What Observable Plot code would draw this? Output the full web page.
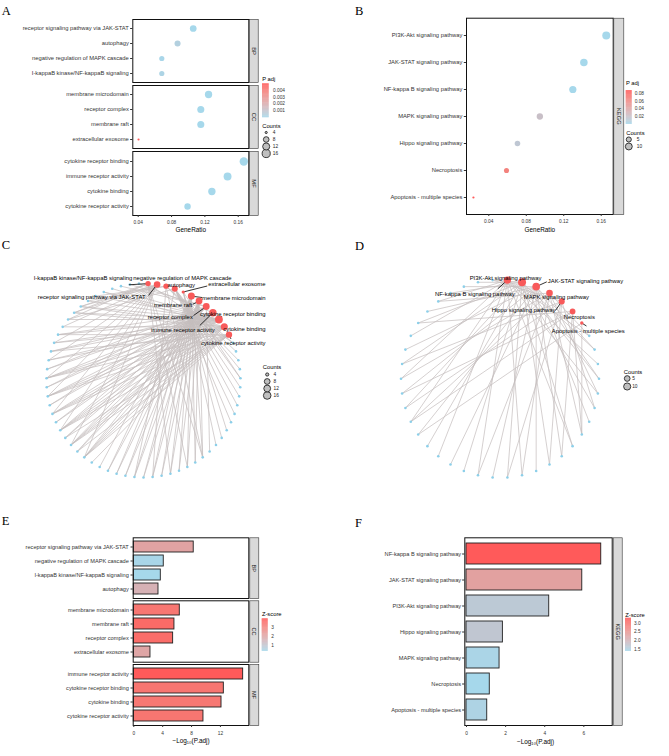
<!DOCTYPE html>
<html>
<head>
<meta charset="utf-8">
<script src="https://cdn.jsdelivr.net/npm/d3@7"></script>
<script src="https://cdn.jsdelivr.net/npm/@observablehq/plot@0.6"></script>
<style>
html,body{margin:0;padding:0;background:#fff;}
#root{position:relative;width:669px;height:756px;overflow:hidden;background:#fff;}
#root svg{position:absolute;left:0;top:0;}
</style>
</head>
<body>
<div id="root"></div>
<script>
// ---------------- DATA ----------------
// GO terms (network order)
const goTerms = ["I-kappaB kinase/NF-kappaB signaling","receptor signaling pathway via JAK-STAT","negative regulation of MAPK cascade","autophagy","extracellular exosome","membrane microdomain","membrane raft","receptor complex","immune receptor activity","cytokine receptor binding","cytokine binding","cytokine receptor activity"];
const goOntology = ["BP","BP","BP","BP","CC","CC","CC","CC","MF","MF","MF","MF"];
const goGeneRatio = [0.0683,0.106,0.0683,0.0872,0.0404,0.1244,0.1151,0.1151,0.1472,0.1667,0.1284,0.0992];
const goCount = [7,11,7,9,4,13,12,12,15,17,13,10];
const goNegLog10Padj = [3.74,8.3,4.15,3.42,2.31,6.37,5.63,5.45,15.15,12.47,12.15,9.65];
const goZscore = [0.39,2.07,0.45,1.65,2.0,3.27,3.55,3.5,3.9,3.3,3.25,3.3];
const goDotOrder = [1,3,2,0, 5,7,6,4, 9,8,10,11];
const goBarOrder = [1,2,0,3, 5,6,7,4, 8,9,10,11];
const goGenes = [
  [14,45,46,0,16,47,18],
  [46,47,28,30,32,34,36,38,40,42,44],
  [14,0,20,48,49,1,2],
  [45,3,4,22,5,6,7,8,9],
  [4,10,11,12],
  [14,16,18,20,22,15,17,19,21,23,24,25,26],
  [14,16,18,20,22,15,17,19,21,23,24,25],
  [28,30,32,29,31,33,35,37,39,13,52,53],
  [28,30,32,34,36,38,29,31,33,35,37,39,41,43,54],
  [45,46,47,28,30,32,34,36,38,40,42,48,49,41,43,50,51],
  [46,47,28,30,32,34,36,38,40,42,44,50,27],
  [28,30,32,34,36,38,29,31,41,43]
];
// KEGG pathways (network order)
const keggTerms = ["NF-kappa B signaling pathway","PI3K-Akt signaling pathway","JAK-STAT signaling pathway","MAPK signaling pathway","Hippo signaling pathway","Necroptosis","Apoptosis - multiple species"];
const keggGeneRatio = [0.1297,0.1654,0.1415,0.0945,0.0706,0.0589,0.0236];
const keggCount = [11,14,12,8,6,5,2];
const keggNegLog10Padj = [6.89,4.23,5.92,1.69,1.86,1.19,1.06];
const keggZscore = [3.29,1.64,2.33,1.42,1.69,1.37,1.46];
const keggDotOrder = [1,2,0,3,4,5,6];
const keggBarOrder = [0,2,1,4,3,5,6];
const keggGenes = [
  [0,2,4,8,12,15,18,21,24,27,30],
  [1,3,5,8,10,13,16,19,22,25,28,31,33,34],
  [1,3,6,9,11,14,17,20,23,26,29,32],
  [0,4,7,12,15,21,24,30],
  [5,10,13,22,25,34],
  [7,9,21,23,28],
  [7,20]
];
// ticks / legend breaks
const ratioTicks = [0.04,0.08,0.12,0.16];
const goBarTicks = [0,4,8,12];
const keggBarTicks = [0,2,4,6];
const goPadjTicks = [0.001,0.002,0.003,0.004];
const keggPadjTicks = [0.02,0.04,0.06,0.08];
const goZTicks = [1,2,3];
const keggZTicks = [1.5,2,2.5,3];
const goCountBreaks = [4,8,12,16];
const keggCountBreaks = [5,10];
const panelLetters = ["A","B","C","D","E","F"];

// ---------------- LAYOUT / STYLE ----------------
const W = 669, H = 756;
const FONT = "'Liberation Sans', Arial, Helvetica, sans-serif";
const BLUE = "#A6D8EB", RED = "#FF5A5A", NODE_RED = "#F85A5A", GENE_BLUE = "#8CCFE9", EDGE = "#C4BEBE";
const root = document.getElementById("root");
const st = fs => `background:transparent;overflow:visible;font-family:${FONT};font-size:${fs}px;color:#333;`;
const fm = (l, t, r, b) => ({marginLeft: l, marginTop: t, marginRight: W - r, marginBottom: H - b});
const add = svg => root.appendChild(svg);

const goRows = goTerms.map((name, i) => ({name, ont: goOntology[i], ratio: goGeneRatio[i], count: goCount[i], lp: goNegLog10Padj[i], p: Math.pow(10, -goNegLog10Padj[i]), z: goZscore[i]}));
const keggRows = keggTerms.map((name, i) => ({name, ont: "KEGG", ratio: keggGeneRatio[i], count: keggCount[i], lp: keggNegLog10Padj[i], p: Math.pow(10, -keggNegLog10Padj[i]), z: keggZscore[i]}));

const goMin = d3.min(goCount), goMax = d3.max(goCount);
const kgMin = d3.min(keggCount), kgMax = d3.max(keggCount);
const goRFn = c => Math.sqrt(c - goMin);
const kgRFn = c => Math.sqrt(c - kgMin);
const goPColor = {type: "linear", domain: d3.extent(goRows, d => d.p), range: [BLUE, RED], interpolate: d3.interpolateLab};
const kgPColor = {type: "linear", domain: d3.extent(keggRows, d => d.p), range: [BLUE, RED], interpolate: d3.interpolateLab};
const goZColor = {type: "linear", domain: d3.extent(goRows, d => d.z), range: [BLUE, RED], interpolate: d3.interpolateLab};
const kgZColor = {type: "linear", domain: d3.extent(keggRows, d => d.z), range: [BLUE, RED], interpolate: d3.interpolateLab};
const goRDot = {type: "linear", domain: [0, Math.sqrt(goMax - goMin)], range: [1.1, 4.2]};
const kgRDot = {type: "linear", domain: [0, Math.sqrt(kgMax - kgMin)], range: [1.1, 4.0]};
const goRNet = {type: "linear", domain: [0, Math.sqrt(goMax - goMin)], range: [1.6, 3.9]};
const kgRNet = {type: "linear", domain: [0, Math.sqrt(kgMax - kgMin)], range: [1.7, 4.0]};

function facet(box, rows, names, stripText, xDomain, scales, mark, fs, yType) {
  const innerW = box.r - box.l;
  const y = yType === "point"
    ? {type: "point", domain: names, padding: 0.6}
    : {type: "band", domain: names, paddingInner: 0.2, paddingOuter: 0.2};
  add(Plot.plot({
    width: W, height: H, ...fm(box.l, box.t, box.r, box.b),
    style: st(fs),
    x: {domain: xDomain, axis: null},
    y: {...y, tickSize: 2.2, tickPadding: box.pad, label: null},
    ...scales,
    marks: [
      mark(rows),
      Plot.frame({stroke: "#111", strokeWidth: 1}),
      Plot.frame({fill: "#D9D9D9", stroke: "#333", strokeWidth: 0.6, insetLeft: innerW + box.sg, insetRight: -(box.sg + box.sw)}),
      Plot.text([stripText], {frameAnchor: "right", dx: box.sg + box.sw / 2, rotate: 90, textAnchor: "middle", lineAnchor: "middle", fontSize: fs, fill: "#1A1A1A"})
    ]
  }));
}

function xAxis(box, domain, ticks, fmt, pad, title, titleY, titleDx) {
  add(Plot.plot({
    width: W, height: H, ...fm(box.l, box.b - 1, box.r, box.b),
    style: st(4.8),
    x: {domain, ticks, tickFormat: fmt, tickSize: 2, tickPadding: pad, label: null},
    marks: [
      Plot.ruleX(ticks, {x: d => d, strokeOpacity: 0}),
      Plot.text([title], {frameAnchor: "bottom", dy: titleY - box.b, dx: titleDx || 0, lineAnchor: "middle", textAnchor: "middle", fontSize: 6.4, fill: "#000"})
    ]
  }));
}

function colorbar(box, colorOpts, ticks, fmt, title, titleY, labelPad) {
  const dom = colorOpts.domain, n = 60, dv = (dom[1] - dom[0]) / n;
  const steps = d3.range(n).map(i => dom[0] + i * dv);
  add(Plot.plot({
    width: W, height: H, ...fm(box.x0, box.y0, box.x1, box.y1),
    style: st(4.8),
    x: {domain: [0, 1], axis: null},
    y: {domain: dom, ticks, tickFormat: fmt, tickSize: 0, tickPadding: labelPad, axis: "right", label: null},
    color: colorOpts,
    marks: [
      Plot.rect(steps, {x1: 0, x2: 1, y1: d => d, y2: d => Math.min(dom[1], d + dv * 1.3), fill: d => d + dv / 2}),
      Plot.text([title], {frameAnchor: "top-left", dy: titleY - box.y0, dx: -0.3, textAnchor: "start", lineAnchor: "middle", fontSize: 5.8, fill: "#000"})
    ]
  }));
}

function countLegend(box, breaks, rOpts, rFn) {
  add(Plot.plot({
    width: W, height: H, margin: 0,
    style: st(4.8),
    x: {domain: [0, 1], range: [box.cx, box.cx + 10], axis: null},
    y: {type: "point", domain: breaks, range: [box.y0, box.y1], padding: 0, axis: null},
    r: rOpts,
    marks: [
      Plot.dot(breaks, {x: 0, y: d => d, r: d => rFn(d), fill: "#BFBFBF", stroke: "#111", strokeWidth: 0.8}),
      Plot.text(breaks, {x: 0, y: d => d, text: d => String(d), dx: box.lx - box.cx, textAnchor: "start", fontSize: 4.8, fill: "#1A1A1A"}),
      Plot.text(["Counts"], {x: 0, y: breaks[0], dx: box.tx - box.cx, dy: box.ty - box.y0, textAnchor: "start", fontSize: 5.8, fill: "#000"})
    ]
  }));
}

function network(box, terms, counts, geneLists, rOpts, rFn, layout) {
  const {cx, cy, rad} = box;
  const nCat = terms.length;
  const nGenes = d3.max(geneLists.flat()) + 1;
  const n = nCat + nGenes;
  const ang = i => (i + 0.5) * 2 * Math.PI / n;
  const cats = terms.map((name, i) => ({name, count: counts[i], x: Math.sin(ang(i)), y: Math.cos(ang(i))}));
  const genes = d3.range(nGenes).map(g => ({x: Math.sin(ang(nCat + g)), y: Math.cos(ang(nCat + g))}));
  const edges = geneLists.flatMap((list, c) => list.map(g => ({c: cats[c], g: genes[g]})));
  const labs = cats.map((c, i) => ({...c, lx: c.x + layout[i].dx / rad, ly: c.y - layout[i].dy / rad, anchor: layout[i].a || "middle", seg: layout[i].seg}));
  const segs = labs.filter(d => d.seg).map(d => ({x1: d.x + d.seg[0] / rad, y1: d.y - d.seg[1] / rad, x2: d.x, y2: d.y}));
  const textMark = anchor => Plot.text(labs.filter(d => d.anchor === anchor), {x: "lx", y: "ly", text: "name", textAnchor: anchor, lineAnchor: "middle", fontSize: 5.9, fill: "#000"});
  add(Plot.plot({
    width: W, height: H, ...fm(cx - rad, cy - rad, cx + rad, cy + rad),
    style: st(5.9),
    x: {domain: [-1, 1], axis: null},
    y: {domain: [-1, 1], axis: null},
    r: rOpts,
    marks: [
      Plot.link(edges, {x1: d => d.c.x, y1: d => d.c.y, x2: d => d.g.x, y2: d => d.g.y, stroke: EDGE, strokeWidth: 0.8, strokeOpacity: 0.9}),
      Plot.dot(genes, {x: "x", y: "y", r: 1.3, fill: GENE_BLUE}),
      Plot.link(segs, {x1: "x1", y1: "y1", x2: "x2", y2: "y2", stroke: "#000", strokeWidth: 0.8}),
      Plot.dot(cats, {x: "x", y: "y", r: d => rFn(d.count), fill: NODE_RED}),
      textMark("start"), textMark("middle"), textMark("end")
    ]
  }));
}

// ---------------- PANEL A ----------------
const aFacets = [{ont: "BP", t: 19, b: 82}, {ont: "CC", t: 85, b: 148}, {ont: "MF", t: 151, b: 215}];
const aDomain = [0.0335, 0.1727];
aFacets.forEach(f => {
  const idx = goDotOrder.filter(i => goOntology[i] === f.ont);
  facet({l: 132.3, r: 248.3, t: f.t, b: f.b, pad: 1.8, sg: 0.7, sw: 8.7},
    goRows.filter(d => d.ont === f.ont), idx.map(i => goTerms[i]), f.ont, aDomain,
    {color: goPColor, r: goRDot},
    rows => Plot.dot(rows, {x: "ratio", y: "name", r: d => goRFn(d.count), fill: "p"}), 5.8, "point");
});
xAxis({l: 132.3, r: 248.3, b: 215}, aDomain, ratioTicks, d3.format(".2f"), 2.8, "GeneRatio", 229);
colorbar({x0: 262, x1: 268.7, y0: 83.3, y1: 117.3}, goPColor, goPadjTicks, d3.format(".3f"), "P adj", 79, 3.8);
countLegend({cx: 265.7, y0: 131.7, y1: 153.7, lx: 272.3, tx: 261.7, ty: 125}, goCountBreaks, goRDot, goRFn);

// ---------------- PANEL B ----------------
const bDomain = [0.0162, 0.1728];
facet({l: 466, r: 612.7, t: 17.7, b: 214, pad: 2, sg: 0.6, sw: 10},
  keggRows, keggDotOrder.map(i => keggTerms[i]), "KEGG", bDomain,
  {color: kgPColor, r: kgRDot},
  rows => Plot.dot(rows, {x: "ratio", y: "name", r: d => kgRFn(d.count), fill: "p"}), 5.8, "point");
xAxis({l: 466, r: 612.7, b: 214}, bDomain, ratioTicks, d3.format(".2f"), 3.5, "GeneRatio", 229);
colorbar({x0: 625.7, x1: 631.7, y0: 90, y1: 124}, kgPColor, keggPadjTicks, d3.format(".2f"), "P adj", 82.7, 2.5);
countLegend({cx: 628.3, y0: 138.3, y1: 145.7, lx: 636.3, tx: 625.7, ty: 131.7}, keggCountBreaks, kgRDot, kgRFn);

// ---------------- PANEL C ----------------
const cLabelLayout = [
  {dx: -15.8, dy: -5.4, a: "end", seg: [-19.2, 1.2]},
  {dx: -11.6, dy: 12.7, a: "end", seg: [-8.6, 11]},
  {dx: -32.8, dy: -8.3, a: "start"},
  {dx: 6.5, dy: -3.4, a: "middle", seg: [1.5, -1.5]},
  {dx: 82.3, dy: -8.2, a: "end", seg: [24, -6]},
  {dx: 74.2, dy: 1.7, a: "end", seg: [10.7, 1.4]},
  {dx: -6.8, dy: 3.8, a: "end", seg: [-6.2, 3.3]},
  {dx: -13.4, dy: 10.7, a: "end", seg: [-12.7, 9]},
  {dx: 1.9, dy: 17.1, a: "end", seg: [-13.1, 12.8]},
  {dx: 46.6, dy: -5.7, a: "end", seg: [3.1, -3.5]},
  {dx: 41.2, dy: 1.9, a: "end"},
  {dx: 36.5, dy: 8.5, a: "end", seg: [2, 4.3]}
];
network({cx: 143, cy: 380, rad: 97}, goTerms, goCount, goGenes, goRNet, goRFn, cLabelLayout);
countLegend({cx: 266.7, y0: 373.3, y1: 395, lx: 273, tx: 262.3, ty: 366}, goCountBreaks, goRNet, goRFn);

// ---------------- PANEL D ----------------
const dLabelLayout = [
  {dx: 7.4, dy: 13.7, a: "end", seg: [-9.6, 8.7]},
  {dx: -16.5, dy: -4.5},
  {dx: 11.6, dy: -5.4, a: "start", seg: [10.6, -4.8]},
  {dx: 6.8, dy: 4.1},
  {dx: -6.2, dy: 8.8, a: "end", seg: [-6.2, 9.1]},
  {dx: 6.7, dy: 6},
  {dx: 43, dy: 8.2, a: "end", seg: [4.7, 3]}
];
network({cx: 499.5, cy: 378.3, rad: 99}, keggTerms, keggCount, keggGenes, kgRNet, kgRFn, dLabelLayout);
countLegend({cx: 626.7, y0: 377.7, y1: 385.7, lx: 631.7, tx: 623.3, ty: 371}, keggCountBreaks, kgRNet, kgRFn);

// ---------------- PANEL E ----------------
const eFacets = [{ont: "BP", t: 537.3, b: 598}, {ont: "CC", t: 600.3, b: 661.7}, {ont: "MF", t: 664, b: 725}];
const eDomain = [-0.083, 15.93];
eFacets.forEach(f => {
  const idx = goBarOrder.filter(i => goOntology[i] === f.ont);
  facet({l: 132.7, r: 248.3, t: f.t, b: f.b, pad: 2.2, sg: 1, sw: 9},
    goRows.filter(d => d.ont === f.ont), idx.map(i => goTerms[i]), f.ont, eDomain,
    {color: goZColor},
    rows => Plot.barX(rows, {x: "lp", y: "name", fill: "z", stroke: "#1F1F1F", strokeWidth: 0.9}), 5.65, "band");
});
xAxis({l: 132.7, r: 248.3, b: 725}, eDomain, goBarTicks, d => String(d), 4.5, "\u2212Log\u2081\u2080(P.adj)", 740.7);
colorbar({x0: 261.7, x1: 267.7, y0: 618.3, y1: 651}, goZColor, goZTicks, d => String(d), "Z-score", 614, 3);

// ---------------- PANEL F ----------------
const fDomain = [-0.087, 7.45];
facet({l: 464.3, r: 611.7, t: 537.3, b: 725, pad: 1.5, sg: 1, sw: 9},
  keggRows, keggBarOrder.map(i => keggTerms[i]), "KEGG", fDomain,
  {color: kgZColor},
  rows => Plot.barX(rows, {x: "lp", y: "name", fill: "z", stroke: "#1F1F1F", strokeWidth: 0.9}), 5.65, "band");
xAxis({l: 464.3, r: 611.7, b: 725}, fDomain, keggBarTicks, d => String(d), 3.8, "\u2212Log\u2081\u2080(P.adj)", 741.5, -3);
colorbar({x0: 625, x1: 631, y0: 617.7, y1: 651}, kgZColor, keggZTicks, d3.format(".1f"), "Z-score", 614.3, 2.4);

// ---------------- PANEL LETTERS ----------------
const letterPos = [[1.7, 15], [355, 15], [1.7, 249], [355, 250], [1.7, 525], [355, 526.7]];
const ov = d3.select(root).append("svg").attr("width", W).attr("height", H);
ov.selectAll("text").data(panelLetters).join("text")
  .attr("x", (d, i) => letterPos[i][0]).attr("y", (d, i) => letterPos[i][1])
  .attr("font-family", "'Liberation Serif', 'Times New Roman', serif").attr("font-size", 12.5).attr("fill", "#000")
  .text(d => d);
</script>
</body>
</html>
